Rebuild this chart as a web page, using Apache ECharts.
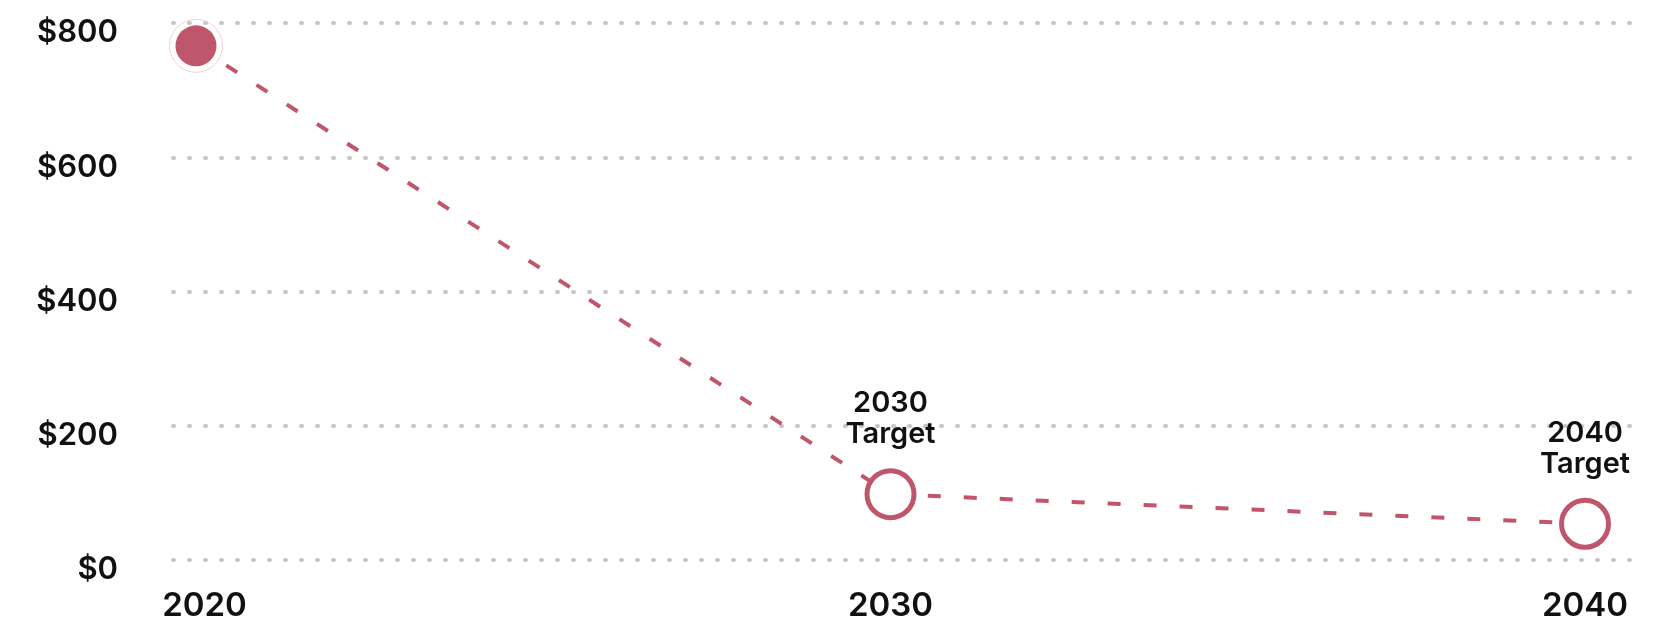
<!DOCTYPE html>
<html>
<head>
<meta charset="utf-8">
<script src="https://cdn.jsdelivr.net/npm/echarts@6/dist/echarts.min.js"></script>
<style>
html,body{margin:0;padding:0;background:#fff;}
#chart{width:1665px;height:623px;}
</style>
</head>
<body>
<div id="chart"></div>
<script>
// Data
var years = [2020, 2030, 2040];
var values = [766, 98, 54];
var pointLabels = ['', '2030\nTarget', '2040\nTarget'];
var yTicks = [0, 200, 400, 600, 800];

var RED = '#c0566c';
var FONT = 'Inter';

var chart = echarts.init(document.getElementById('chart'), null, {renderer: 'canvas'});

var lineData = years.map(function (y, i) {
  var first = i === 0;
  return {
    value: [y, values[i]],
    symbolSize: first ? 41 : 47,
    itemStyle: first
      ? {color: RED, borderWidth: 0}
      : {color: '#ffffff', borderColor: RED, borderWidth: 5},
    label: {show: !!pointLabels[i], formatter: pointLabels[i]}
  };
});

var labelText = {color: '#111', fontFamily: FONT, fontWeight: 600};

var option = {
  animation: false,
  grid: {left: 173, right: 24, top: 23, bottom: 63, containLabel: false},
  xAxis: {
    type: 'value',
    min: 2019.669,
    max: 2040.806,
    axisLine: {show: false},
    axisTick: {show: false},
    splitLine: {show: false},
    axisLabel: {
      customValues: years,
      formatter: function (v) {
        var y = Math.round(v);
        return (y === years[0] ? '{f|' : '{n|') + y + '}';
      },
      margin: 30,
      rich: {
        f: Object.assign({fontSize: 33, padding: [0, 0, 0, 17]}, labelText),
        n: Object.assign({fontSize: 33}, labelText)
      }
    }
  },
  yAxis: {
    type: 'value',
    min: yTicks[0],
    max: yTicks[yTicks.length - 1],
    interval: 200,
    axisLine: {show: false},
    axisTick: {show: false},
    axisLabel: {
      formatter: function (v) { return '{a|$' + v + '}'; },
      margin: 55,
      rich: {
        a: Object.assign({fontSize: 31, padding: [20, 0, 0, 0]}, labelText)
      }
    },
    splitLine: {
      show: true,
      lineStyle: {color: '#c6c6c6', width: 4, type: [1, 15], cap: 'round'}
    }
  },
  series: [
    {
      type: 'scatter',
      data: [[years[0], values[0]]],
      symbolSize: 53,
      itemStyle: {color: 'rgba(255,255,255,0)', borderColor: '#f0c4cd', borderWidth: 1},
      z: 1,
      silent: true
    },
    {
      type: 'line',
      data: lineData,
      symbol: 'circle',
      showAllSymbol: true,
      color: RED,
      lineStyle: {color: RED, width: 4, type: [13, 23]},
      label: {
        position: 'top',
        distance: 18,
        color: '#111',
        fontFamily: FONT,
        fontWeight: 600,
        fontSize: 29,
        lineHeight: 31,
        align: 'center'
      },
      z: 3
    }
  ]
};
chart.setOption(option);
</script>
</body>
</html>
